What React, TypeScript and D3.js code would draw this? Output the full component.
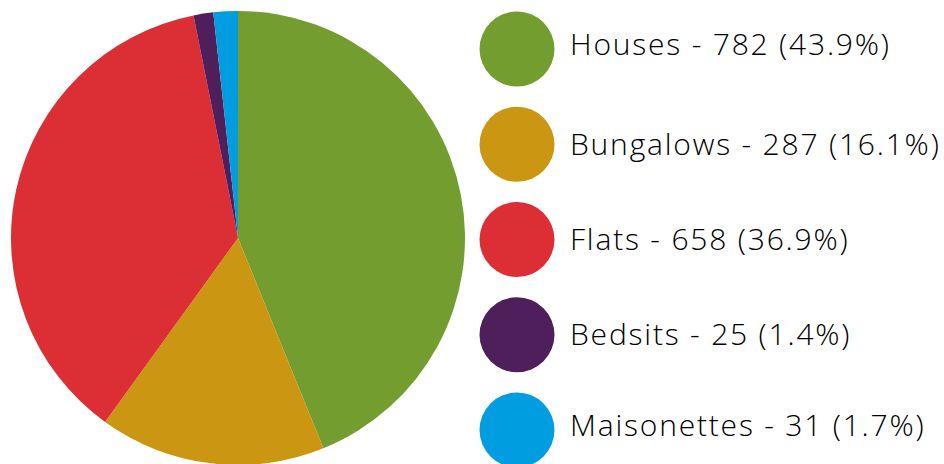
import * as d3 from 'd3';

const categories = ['Houses', 'Bungalows', 'Flats', 'Bedsits', 'Maisonettes'];
const values = [782, 287, 658, 25, 31];
const colours = ['#739e2f', '#cb9612', '#dc2e35', '#4f1f5c', '#009ee0'];

const WIDTH = 944;
const HEIGHT = 464;
const CX = 238;
const CY = 238;
const RADIUS = 227;
// first and last labels sit a little higher than their swatch
const LABEL_NUDGE = [-5, 0, 0, 0, -5];

export default function App() {
  const total = d3.sum(values);
  const pie = d3.pie<number>().sort(null).value((d) => d);
  const arcs = pie(values);
  const arcGen = d3.arc<d3.PieArcDatum<number>>().innerRadius(0).outerRadius(RADIUS);

  // legend rows spaced evenly
  const legendY = d3.scalePoint<string>().domain(categories).range([49, 430]);

  return (
    <svg
      width={WIDTH}
      height={HEIGHT}
      style={{ position: 'absolute', left: 0, top: 0, background: '#fff' }}
    >
      <g transform={`translate(${CX}, ${CY})`}>
        {arcs.map((a, i) => (
          <path key={categories[i]} d={arcGen(a) ?? ''} fill={colours[i]} />
        ))}
      </g>
      <g>
        {categories.map((c, i) => {
          const y = legendY(c) ?? 0;
          const pct = ((values[i] / total) * 100).toFixed(1);
          return (
            <g key={c} transform={`translate(0, ${y})`}>
              <circle cx={517} cy={0} r={37.5} fill={colours[i]} />
              <text
                x={570}
                y={10.5 + LABEL_NUDGE[i]}
                fontFamily="'Open Sans', 'Noto Sans', sans-serif"
                fontWeight={350}
                fontSize={30}
                letterSpacing={1.8}
                fill="#000"
              >
                {`${c} - ${values[i]} (${pct}%)`}
              </text>
            </g>
          );
        })}
      </g>
    </svg>
  );
}
